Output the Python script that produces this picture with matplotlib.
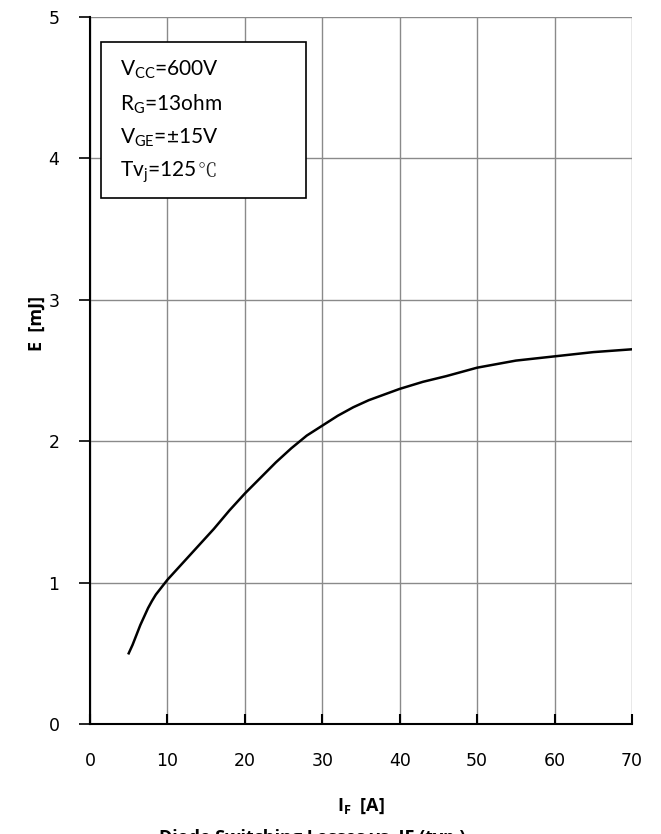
import matplotlib
matplotlib.use("Agg")
import matplotlib.pyplot as plt
from matplotlib.patches import Rectangle

# ---- data ----
i_f = [5, 5.5, 6, 6.5, 7, 7.5, 8, 8.5, 9, 9.5, 10, 12, 14, 16, 18, 20, 22, 24, 26, 28,
       30, 32, 34, 36, 38, 40, 43, 46, 50, 55, 60, 65, 70]
energy = [0.50, 0.56, 0.63, 0.70, 0.76, 0.82, 0.87, 0.915, 0.95, 0.985, 1.02, 1.14, 1.26, 1.38,
          1.51, 1.63, 1.74, 1.85, 1.95, 2.04, 2.11, 2.18, 2.24, 2.29, 2.33, 2.37, 2.42, 2.46,
          2.52, 2.57, 2.60, 2.63, 2.65]
x_ticks = [0, 10, 20, 30, 40, 50, 60, 70]
y_ticks = [0, 1, 2, 3, 4, 5]
cond_lines = [r"V$\mathregular{_{CC}}$=600V",
              r"R$\mathregular{_{G}}$=13ohm",
              r"V$\mathregular{_{GE}}$=±15V",
              r"Tv$\mathregular{_{j}}$=125"]
cond_suffix = ["", "", "", "℃"]

W, H = 661, 834
fig = plt.figure(figsize=(W / 100, H / 100), dpi=100)
ax = fig.add_axes([90 / W, (H - 724) / H, 542 / W, 707 / H])

ax.plot(i_f, energy, color="black", lw=1.8, zorder=3, solid_joinstyle="round")

ax.set_xlim(0, 70)
ax.set_ylim(0, 5)
ax.set_xticks(x_ticks)
ax.set_yticks(y_ticks)
ax.grid(True, color="#8a8a8a", lw=1.0)
ax.set_axisbelow(True)
for s in ["top", "right"]:
    ax.spines[s].set_visible(False)
for s in ["left", "bottom"]:
    ax.spines[s].set_linewidth(1.5)
    ax.spines[s].set_color("black")
ax.tick_params(axis="y", direction="out", length=8, width=1.2, pad=14)
ax.tick_params(axis="x", direction="in", length=7, width=1.5, pad=20)
ax.set_xticklabels([str(v) for v in x_ticks], fontsize=12.5, family="DejaVu Sans")
ax.set_yticklabels([str(v) for v in y_ticks], fontsize=12.5, family="DejaVu Sans")

ax.set_ylabel("E  [mJ]", fontsize=13, fontweight="bold", family="Open Sans",
              va="center", ha="center")
ax.yaxis.set_label_coords((37 - 90) / 542, (724 - 323) / 707)
ax.set_xlabel(r"I$\mathregular{_F}$  [A]", fontsize=13, fontweight="bold", family="Open Sans",
              va="center", ha="center")
ax.xaxis.set_label_coords((361 - 90) / 542, (724 - 806) / 707)

# condition box
bx0, by0, bx1, by1 = (101 - 90) / 542, (724 - 198) / 707, (306 - 90) / 542, (724 - 42) / 707
ax.add_patch(Rectangle((bx0, by0), bx1 - bx0, by1 - by0, transform=ax.transAxes,
                       facecolor="white", edgecolor="black", lw=1.2, zorder=4))
renderer = fig.canvas.get_renderer()
for k, t in enumerate(cond_lines):
    yy = (724 - (70 + 34 * k)) / 707
    txt = ax.text((120 - 90) / 542, yy, t, transform=ax.transAxes, fontsize=15,
                  family="Lato", va="center", ha="left", zorder=5)
    if cond_suffix[k]:
        bb = txt.get_window_extent(renderer=renderer)
        xs = ax.transAxes.inverted().transform((bb.x1 + 1, 0))[0]
        ax.text(xs, yy, cond_suffix[k], transform=ax.transAxes, fontsize=14,
                family=["Noto Serif CJK SC", "Noto Sans CJK SC", "DejaVu Sans"],
                va="center", ha="left", zorder=5, color="#222222")

fig.text(312 / W, (H - 843) / H, "Diode Switching Losses vs. IF (typ.)", ha="center", va="baseline",
         fontsize=13, fontweight="bold", family="Open Sans")

fig.savefig("out.png", dpi=100, facecolor="white")
